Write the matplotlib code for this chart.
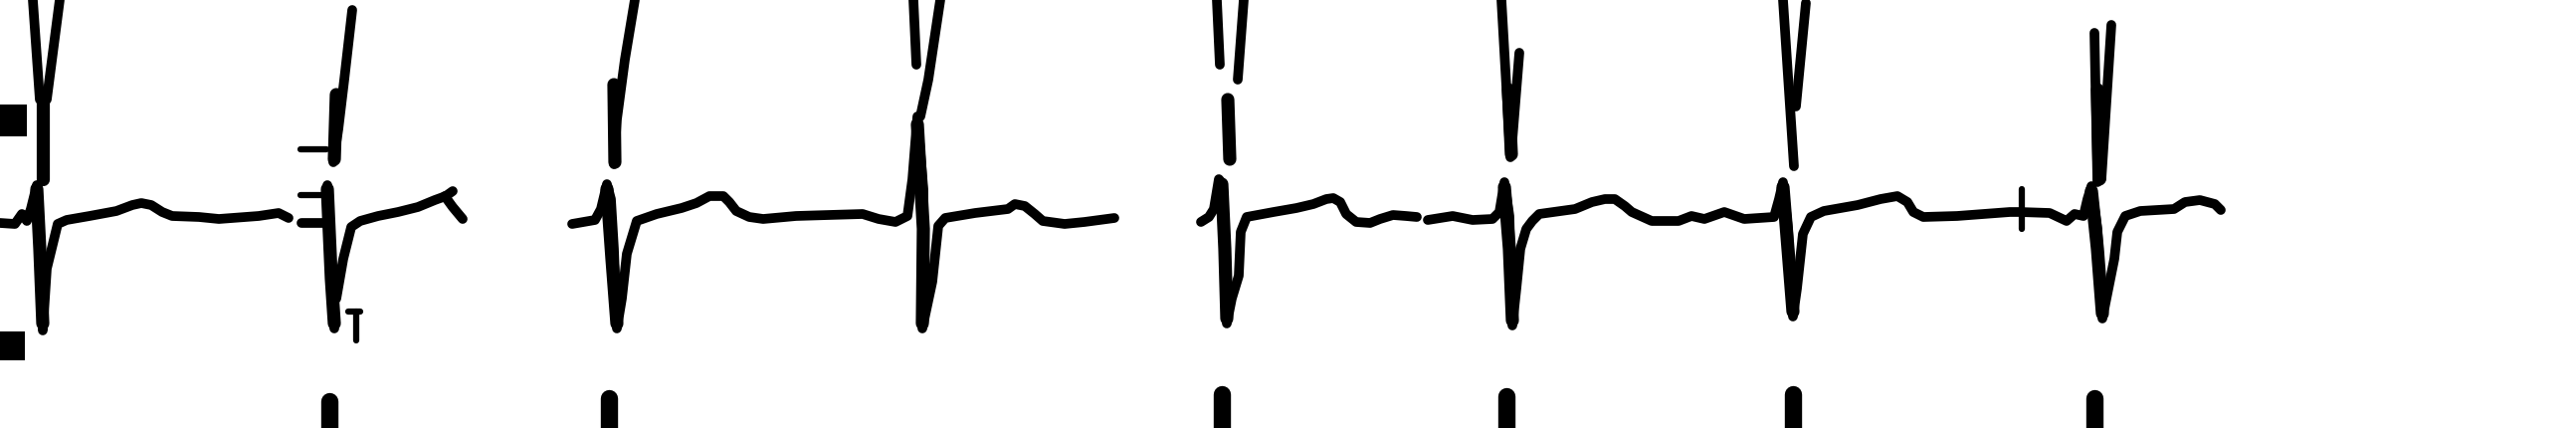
import matplotlib.pyplot as plt

# main trace pieces, pixel coords (x from left, y from top)
beat1_x = [0, 15, 22, 27, 31, 37, 40, 43, 47, 58, 67, 90, 117, 133, 142, 152, 163, 173, 200, 220, 260, 280, 290]
beat1_y = [224, 225, 215, 222, 210, 186, 230, 332, 270, 225, 221, 217, 212, 206, 204, 206, 213, 217, 218, 220, 217, 214, 219]

beat2_x = [303, 329, 329]
beat2_y = [224, 224, 186]
beat2s_x = [330, 333, 336]
beat2s_y = [238, 290, 330]
beat2t_x = [338, 345, 353, 362, 380, 400, 420, 437, 448, 455]
beat2t_y = [300, 260, 228, 222, 217, 213, 208, 201, 197, 192]
beat2x_x = [447, 455, 465]
beat2x_y = [197, 208, 220]

beat3_x = [575, 598, 604, 610, 614, 617, 620, 625, 630, 640, 660, 685, 700, 713, 727, 733, 740, 753,
           767, 800, 833, 867, 883, 900, 912, 917, 922, 928, 928, 927, 937, 943, 950, 980, 1013,
           1020, 1030, 1040, 1048, 1070, 1090, 1120]
beat3_y = [225, 221, 210, 185, 200, 250, 330, 300, 255, 222, 215, 209, 204, 197, 197, 203, 212, 218,
           220, 217, 216, 215, 220, 223, 217, 180, 117, 190, 260, 330, 283, 227, 219, 214, 210,
           205, 207, 215, 222, 225, 223, 219]

beat5_x = [1207, 1215, 1220, 1225, 1229, 1231, 1233, 1238, 1245, 1247, 1253, 1280, 1303, 1320, 1333,
           1340, 1347, 1353, 1363, 1377, 1387, 1400, 1413, 1424]
beat5_y = [223, 218, 210, 180, 185, 237, 325, 300, 277, 233, 218, 213, 209, 205, 200,
           199, 203, 215, 223, 224, 220, 216, 217, 218]

beat6_x = [1435, 1460, 1480, 1500, 1507, 1512, 1517, 1520, 1524, 1528, 1534, 1540, 1547, 1583, 1600,
           1613, 1623, 1633, 1640, 1660, 1687, 1700, 1713, 1733, 1753, 1783, 1788, 1792, 1797, 1802,
           1806, 1812, 1820, 1833, 1867, 1890, 1907, 1917, 1923, 1933, 1967, 2020, 2030, 2060, 2077,
           2085, 2094, 2098, 2102, 2108, 2113, 2119, 2125, 2128, 2136, 2151, 2185, 2196, 2211, 2226, 2232]
beat6_y = [221, 217, 221, 220, 213, 183, 217, 327, 290, 250, 230, 222, 215, 210, 203,
           200, 200, 207, 213, 222, 222, 217, 220, 213, 220, 218, 200, 183, 230, 318,
           290, 235, 218, 212, 206, 200, 197, 203, 213, 218, 217, 213, 213, 214, 222,
           215, 217, 200, 187, 230, 320, 290, 260, 233, 217, 212, 210, 203, 201, 205, 211]

# tails of the row above
tails_x = [[33, 40], [60, 47], [354, 346, 340, 335], [638, 628, 620, 617], [918, 921], [945, 933, 925],
           [1223, 1226], [1250, 1244], [1509, 1518], [1527, 1520], [1792, 1803], [1815, 1805],
           [2105, 2108], [2122, 2112]]
tails_y = [[0, 100], [0, 100], [10, 80, 130, 163], [0, 60, 120, 165], [0, 65], [0, 80, 117],
           [0, 65], [0, 80], [0, 158], [53, 140], [0, 167], [3, 107],
           [33, 183], [25, 180]]
thick_x = [[43, 43], [338, 336], [617, 618], [1234, 1236], [1516, 1519], [2108, 2110]]
thick_y = [[95, 180], [95, 160], [85, 163], [100, 160], [90, 155], [90, 180]]

# QRS columns drawn a bit heavier
qrs_x = [[37, 40, 43], [329, 333, 336], [610, 615, 620], [922, 928, 927], [1228, 1231, 1233],
         [1512, 1517, 1520], [1792, 1797, 1802], [2102, 2108, 2113]]
qrs_y = [[190, 250, 325], [190, 280, 325], [190, 260, 325], [125, 230, 325], [185, 250, 320],
         [188, 250, 322], [188, 250, 313], [192, 250, 315]]

stubs_x = [[302, 325], [302, 328], [2032, 2032], [350, 362], [358, 358]]
stubs_y = [[196, 196], [150, 150], [190, 230], [313, 313], [313, 342]]

# tops of the row below
blob_x = [331, 612, 1228, 1514, 1802, 2105]
blob_top = [397, 394, 390, 392, 390, 394]

# left edge markers
mark_y = [121, 347]
mark_h = [32, 29]
mark_w = [27, 25]

fig = plt.figure(figsize=(25.89, 4.30), dpi=100)
ax = fig.add_axes([0, 0, 1, 1])

kw = dict(color='black', solid_capstyle='round', solid_joinstyle='round')
for xs, ys in [(beat1_x, beat1_y), (beat2_x, beat2_y), (beat2s_x, beat2s_y), (beat2t_x, beat2t_y),
               (beat2x_x, beat2x_y), (beat3_x, beat3_y), (beat5_x, beat5_y), (beat6_x, beat6_y)]:
    ax.plot(xs, ys, lw=7, **kw)

for xs, ys in zip(qrs_x, qrs_y):
    ax.plot(xs, ys, lw=9.5, **kw)
for xs, ys in zip(tails_x, tails_y):
    ax.plot(xs, ys, lw=7, **kw)
for xs, ys in zip(thick_x, thick_y):
    ax.plot(xs, ys, lw=9.5, **kw)
for xs, ys in zip(stubs_x, stubs_y):
    ax.plot(xs, ys, lw=4.5, **kw)

for bx, bt in zip(blob_x, blob_top):
    ax.plot([bx, bx], [bt + 6, 440], lw=12.5, **kw)

ax.barh(mark_y, mark_w, height=mark_h, left=0, color='black')

ax.set_xlim(0, 2589)
ax.set_ylim(430, 0)
ax.axis('off')

plt.savefig('out.png', dpi=100, facecolor='white')
